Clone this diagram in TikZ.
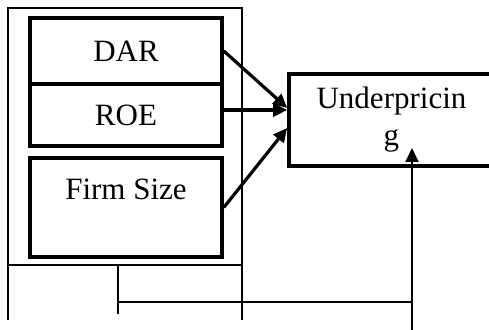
\documentclass[tikz,border=0pt]{standalone}
\usepackage{fontspec}
\setmainfont{Liberation Serif}
\usetikzlibrary{arrows.meta}
\begin{document}
\begin{tikzpicture}
    [x=0.5pt, y=-0.5pt, >={Triangle[length=7pt,width=6.5pt]},
     var/.style={draw, line width=1.8pt, inner sep=0pt, align=center, minimum width=96pt, font=\fontsize{15.5}{18}\selectfont},
     frame/.style={line width=0.6pt}, link/.style={->, line width=1.6pt}]
    \useasboundingbox (0,0) rectangle (489,330);
    \clip (0,0) rectangle (489,330);
    % outer frame
    \coordinate (tl) at (8,8);
    \coordinate (tr) at (242,8);
    \coordinate (bl) at (8,320);
    \coordinate (br) at (242,320);
    \draw[frame] (bl) -- (tl) -- (tr) -- (br);
    \draw[frame] (8,265) -- (242,265);
    \coordinate (fork) at (118,265);
    \coordinate (forkend) at (118,314);
    \coordinate (gsrc) at (412,330);
    \coordinate (gtip) at (412,148);
    \draw[frame] (fork) -- (forkend);
    \draw[frame] (fork |- 0,302) -- (gsrc |- 0,302);
    % variables
    \node[var, minimum height=33pt] (dar) at (126,51) {DAR};
    \node[var, minimum height=31pt] (roe) at (126,115) {ROE};
    \node[var, minimum height=49.5pt] (size) at (126,207.5) {Firm Size\\ ~};
    \node[var, minimum width=110pt, minimum height=46pt] (under) at (399,120)
        {Underpricin\hspace*{7.5pt}\\[0.5pt]g\hspace*{7.5pt}};
    \draw[link] (dar.east) -- ([yshift=6pt]under.west);
    \draw[link] ([yshift=2.5pt]roe.east) -- ([yshift=5pt]under.west);
    \draw[link] (size.east) -- ([yshift=-4pt]under.west);
    \draw[->, line width=1pt] (gsrc) -- (gtip);
\end{tikzpicture}
\end{document}
